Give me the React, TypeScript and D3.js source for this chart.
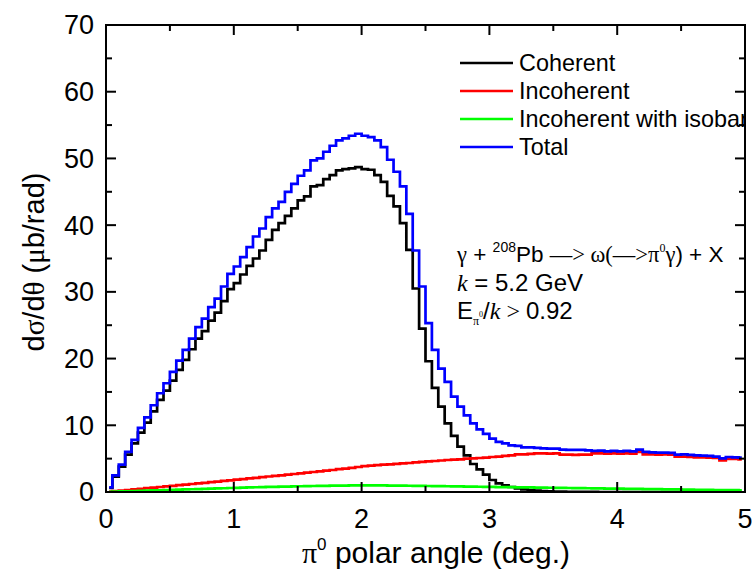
import React, { useEffect, useRef } from 'react';
import * as d3 from 'd3';

// histogram bins, 0.05 deg wide, values at bin centres
const binWidth = 0.05;
const nBins = 100;

const coherent = [
  0.6, 2.3, 3.8, 5.6, 7.3, 8.9, 10.4, 12.1, 13.8, 15.2, 16.7, 18.3, 19.8, 21.4, 23.0, 24.1, 25.7, 26.9, 28.6, 30.4, 31.3, 32.6, 33.9,
  35.0, 36.2, 37.8, 39.3, 40.3, 41.4, 42.5, 43.7, 44.3, 45.8, 46.0, 46.9, 47.5, 48.2, 48.4, 48.5, 48.7, 48.4, 48.3, 47.5, 46.5, 44.4, 42.8, 40.3, 36.3,
  30.5, 24.5, 19.6, 15.6, 12.8, 10.3, 8.4, 6.8, 5.5, 4.2, 3.4, 2.6, 1.8, 1.3, 1.0, 0.75, 0.55,
  0.4, 0.3, 0.2, 0.15, 0.1, 0.07, 0.05, 0.04, 0.03, 0.02, 0.02, 0.01,
  0, 0, 0, 0, 0, 0, 0, 0, 0, 0, 0, 0, 0, 0, 0, 0, 0, 0, 0, 0, 0, 0, 0
];

const incoherent = [
  0.05, 0.13, 0.22, 0.3, 0.4, 0.48, 0.57, 0.66, 0.75, 0.84, 0.93, 1.02, 1.1, 1.2, 1.3, 1.38, 1.47, 1.57, 1.66, 1.75,
  1.85, 1.93, 2.03, 2.12, 2.22, 2.32, 2.42, 2.5, 2.6, 2.7, 2.8, 2.9, 3.0, 3.1, 3.2, 3.3, 3.42, 3.5, 3.62, 3.75,
  3.88, 3.95, 4.02, 4.1, 4.15, 4.22, 4.3, 4.35, 4.45, 4.52, 4.6, 4.65, 4.72, 4.8, 4.85, 4.9, 5.0, 5.05, 5.1, 5.15,
  5.25, 5.3, 5.4, 5.5, 5.65, 5.65, 5.7, 5.8, 5.8, 5.75, 5.8, 5.6, 5.6, 5.55, 5.6, 5.6, 5.8, 5.8, 5.75, 5.8,
  5.75, 5.8, 5.75, 6.0, 5.65, 5.65, 5.6, 5.65, 5.6, 5.3, 5.3, 5.25, 5.2, 5.2, 5.15, 5.1, 4.75, 4.95, 4.95, 4.9
];

const isobar = [
  0.02, 0.05, 0.08, 0.11, 0.14, 0.17, 0.2, 0.23, 0.26, 0.29, 0.32, 0.35, 0.38, 0.41, 0.44, 0.47, 0.5, 0.53, 0.56, 0.6,
  0.63, 0.66, 0.68, 0.71, 0.73, 0.76, 0.78, 0.8, 0.82, 0.84, 0.86, 0.88, 0.9, 0.92, 0.93, 0.95, 0.96, 0.97, 0.98, 0.99,
  1.0, 1.0, 0.99, 0.98, 0.97, 0.96, 0.95, 0.94, 0.93, 0.92, 0.9, 0.89, 0.88, 0.86, 0.85, 0.83, 0.82, 0.8, 0.79, 0.77,
  0.76, 0.74, 0.73, 0.72, 0.7, 0.69, 0.68, 0.66, 0.65, 0.64, 0.62, 0.61, 0.6, 0.58, 0.57, 0.56, 0.55, 0.53, 0.52, 0.51,
  0.5, 0.48, 0.47, 0.46, 0.44, 0.43, 0.42, 0.4, 0.39, 0.38, 0.36, 0.35, 0.34, 0.32, 0.31, 0.3, 0.29, 0.28, 0.27, 0.26
];

const total = [
  0.7, 2.5, 4.1, 6.0, 7.8, 9.6, 11.2, 13.0, 14.8, 16.3, 18.0, 19.7, 21.3, 23.0, 24.7, 26.0, 27.7, 29.0, 30.8, 32.7, 33.8, 35.2, 36.7,
  38.3, 39.5, 41.2, 42.5, 43.5, 45.0, 46.2, 47.4, 48.2, 49.7, 50.0, 51.0, 51.9, 52.7, 53.0, 53.4, 53.7, 53.4, 53.2, 52.7, 51.7, 49.8, 48.0, 45.8, 41.7,
  36.2, 30.8, 25.3, 21.3, 18.5, 16.5, 14.3, 12.8, 11.5, 10.3, 9.4, 8.7, 8.0, 7.5, 7.3, 7.0, 6.9,
  6.7, 6.7, 6.6, 6.55, 6.5, 6.5, 6.35, 6.3, 6.3, 6.3, 6.25, 6.15, 6.2, 6.1, 6.15, 6.1, 6.15, 6.1, 6.35, 6.0,
  5.95, 5.9, 5.9, 5.85, 5.6, 5.65, 5.55, 5.5, 5.45, 5.4, 5.3, 5.05, 5.25, 5.2, 5.15
];

const seriesNames = ['Coherent', 'Incoherent', 'Incoherent with isobar', 'Total'];
const seriesColors = ['#000000', '#ff0000', '#00ff00', '#0000ff'];
const seriesValues = [coherent, incoherent, isobar, total];

const xTicks = [0, 1, 2, 3, 4, 5];
const xMinorTicks = [0.5, 1.5, 2.5, 3.5, 4.5];
const yTicks = [0, 10, 20, 30, 40, 50, 60, 70];
const yMinorTicks = [5, 15, 25, 35, 45, 55, 65];

const W = 753;
const H = 573;
const SANS = '"Liberation Sans", Arial, sans-serif';
const SERIF = '"Liberation Serif", "Times New Roman", serif';

const App = () => {
  const svgRef = useRef<SVGSVGElement>(null);

  useEffect(() => {
    const svg = d3.select(svgRef.current);
    svg.selectAll('*').remove();

    const margin = { top: 25, right: 8, bottom: 81, left: 106 };
    const innerWidth = W - margin.left - margin.right;
    const innerHeight = H - margin.top - margin.bottom;

    const x = d3.scaleLinear().domain([0, 5]).range([0, innerWidth]);
    const y = d3.scaleLinear().domain([0, 70]).range([innerHeight, 0]);

    const g = svg.append('g')
      .attr('transform', `translate(${margin.left},${margin.top})`);

    svg.append('defs').append('clipPath').attr('id', 'plot-clip')
      .append('rect').attr('width', innerWidth).attr('height', innerHeight);

    // histogram lines, step centred on bin centres
    const centres = d3.range(nBins).map(i => (i + 0.5) * binWidth);
    const line = d3.line<number>()
      .x((d, i) => x(centres[i]))
      .y(d => y(d))
      .curve(d3.curveStep);

    const lines = g.append('g').attr('clip-path', 'url(#plot-clip)');
    seriesValues.forEach((vals, k) => {
      lines.append('path')
        .datum(vals)
        .attr('fill', 'none')
        .attr('stroke', seriesColors[k])
        .attr('stroke-width', 2.7)
        .attr('stroke-linejoin', 'miter')
        .attr('d', line);
    });

    // frame + inward ticks on all four sides
    const axisColor = '#000';
    g.append('rect')
      .attr('width', innerWidth).attr('height', innerHeight)
      .attr('fill', 'none').attr('stroke', axisColor).attr('stroke-width', 2);

    const tickG = g.append('g').attr('stroke', axisColor).attr('stroke-width', 2);
    const addXTicks = (vals: number[], len: number) => {
      vals.forEach(v => {
        tickG.append('line').attr('x1', x(v)).attr('x2', x(v))
          .attr('y1', innerHeight).attr('y2', innerHeight - len);
        tickG.append('line').attr('x1', x(v)).attr('x2', x(v))
          .attr('y1', 0).attr('y2', len);
      });
    };
    const addYTicks = (vals: number[], len: number) => {
      vals.forEach(v => {
        tickG.append('line').attr('y1', y(v)).attr('y2', y(v))
          .attr('x1', 0).attr('x2', len);
        tickG.append('line').attr('y1', y(v)).attr('y2', y(v))
          .attr('x1', innerWidth).attr('x2', innerWidth - len);
      });
    };
    addXTicks(xTicks, 10);
    addXTicks(xMinorTicks, 6);
    addYTicks(yTicks, 10);
    addYTicks(yMinorTicks, 6);

    // tick labels
    g.selectAll('.xlab').data(xTicks).enter().append('text')
      .attr('x', d => x(d)).attr('y', innerHeight + 36)
      .attr('text-anchor', 'middle')
      .attr('font-family', SANS).attr('font-size', 27)
      .text(d => d);

    g.selectAll('.ylab').data(yTicks).enter().append('text')
      .attr('x', -12).attr('y', d => y(d)).attr('dy', '0.35em')
      .attr('text-anchor', 'end')
      .attr('font-family', SANS).attr('font-size', 27)
      .text(d => d);

    // axis titles
    const xt = svg.append('text')
      .attr('x', 436).attr('y', 563)
      .attr('text-anchor', 'middle')
      .attr('font-family', SANS).attr('font-size', 30);
    xt.append('tspan').attr('font-family', SERIF).text('π');
    xt.append('tspan').attr('font-size', 17).attr('dy', -13).text('0');
    xt.append('tspan').attr('dy', 13).text(' polar angle (deg.)');

    const yt = svg.append('text')
      .attr('transform', `translate(44,${262}) rotate(-90)`)
      .attr('text-anchor', 'middle')
      .attr('font-family', SANS).attr('font-size', 29);
    yt.append('tspan').text('d');
    yt.append('tspan').attr('font-family', SERIF).text('σ');
    yt.append('tspan').text('/d');
    yt.append('tspan').attr('font-family', SERIF).text('θ');
    yt.append('tspan').text(' (');
    yt.append('tspan').attr('font-family', SERIF).text('μ');
    yt.append('tspan').text('b/rad)');

    // legend, clipped by the right axis
    const legend = g.append('g').attr('clip-path', 'url(#plot-clip)');
    seriesNames.forEach((name, i) => {
      const ly = 63 + i * 28 - margin.top;
      legend.append('line')
        .attr('x1', 460 - margin.left).attr('x2', 513 - margin.left)
        .attr('y1', ly).attr('y2', ly)
        .attr('stroke', seriesColors[i]).attr('stroke-width', 2.7);
      legend.append('text')
        .attr('x', 519 - margin.left).attr('y', ly).attr('dy', '0.36em')
        .attr('font-family', SANS).attr('font-size', 23.4)
        .text(name);
    });

    // reaction annotation
    const ax = 457;
    const fs = 24;
    const t1 = svg.append('text').attr('x', ax).attr('y', 262)
      .attr('font-family', SANS).attr('font-size', 22.5);
    t1.append('tspan').attr('font-family', SERIF).text('γ');
    t1.append('tspan').text(' + ');
    t1.append('tspan').attr('font-size', 14).attr('dy', -10).text('208');
    t1.append('tspan').attr('dy', 10).text('Pb ');
    t1.append('tspan').attr('font-family', SERIF).text('—> ω(—>π');
    t1.append('tspan').attr('font-size', 12).attr('dy', -10).attr('font-family', SERIF).text('0');
    t1.append('tspan').attr('dy', 10).attr('font-family', SERIF).text('γ');
    t1.append('tspan').text(') + X');

    const t2 = svg.append('text').attr('x', ax).attr('y', 291)
      .attr('font-family', SANS).attr('font-size', fs);
    t2.append('tspan').attr('font-family', SERIF).attr('font-style', 'italic').text('k');
    t2.append('tspan').text(' = 5.2 GeV');

    const t3 = svg.append('text').attr('x', ax).attr('y', 319)
      .attr('font-family', SANS).attr('font-size', fs);
    t3.append('tspan').text('E');
    t3.append('tspan').attr('font-family', SERIF).attr('font-size', 12).attr('dy', 6).text('π');
    t3.append('tspan').attr('font-family', SERIF).attr('font-size', 8).attr('dy', -8).text('0');
    t3.append('tspan').attr('dy', 2).text('/');
    t3.append('tspan').attr('font-family', SERIF).attr('font-style', 'italic').text('k');
    t3.append('tspan').attr('font-family', SERIF).text(' > ');
    t3.append('tspan').text('0.92');
  }, []);

  return (
    <svg ref={svgRef} width={W} height={H}
      style={{ position: 'absolute', left: 0, top: 0, background: '#fff' }} />
  );
};

export default App;
